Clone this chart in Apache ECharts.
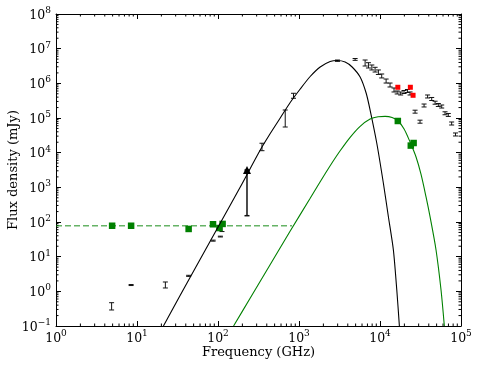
<!DOCTYPE html>
<html>
<head>
<meta charset="utf-8">
<script src="https://cdn.jsdelivr.net/npm/echarts@6.0.0/dist/echarts.min.js"></script>
<style>
  html, body { margin: 0; padding: 0; background: #fff; }
  #chart { width: 480px; height: 369px; }
</style>
</head>
<body>
<div id="chart"></div>
<script>
// axis ranges (GHz, mJy)
const xRange = [1, 1e5]
const yRange = [0.1, 1e8]
const minorMults = [2, 3, 4, 5, 6, 7, 8, 9]

// model curves: [freq, flux]
const coldCurve = [
  [21.2, 0.1], [34.3, 0.785], [60.5, 8.57], [106.8, 93.7], [188.4, 1023], [332.4, 11940],
  [441.6, 35700], [586.6, 100000], [778.9, 280000], [1035, 687000], [1374, 1574000],
  [1826, 2960000], [2425, 4260000], [2958, 4560000], [3713, 4130000], [4529, 2960000],
  [5685, 1520000], [6741, 526000], [7549, 170000], [9130, 18700], [11010, 1309],
  [12695, 142], [14630, 15.6], [16120, 1.09], [17350, 0.1]
]
const warmCurve = [
  [155.7, 0.1], [250.2, 0.644], [441.6, 5.96], [778.9, 55.1], [1374, 483], [1826, 1445],
  [2425, 4188], [3221, 11330], [4279, 27770], [5685, 57680], [7549, 93070], [9476, 109100],
  [11560, 111600], [14100, 103500], [16720, 82000], [19830, 48200], [23500, 20300],
  [27870, 7500], [32120, 2349], [37020, 527], [41480, 142], [49180, 15.6], [56680, 1.09],
  [62260, 0.1]
]
const flatLine = [[1, 78], [820, 78]]

// green squares
const greenPts = [
  [4.93, 78], [8.46, 78], [43.4, 63], [86.8, 86], [104, 67], [114, 88],
  [16600, 82000], [24000, 16000], [26000, 19000]
]
// red squares
const redPts = [[16600, 770000], [23700, 770000], [25600, 452000]]

// error bars: [freq, low, high]
const errBars = [
  [4.86, 0.29, 0.47], [8.46, 1.47, 1.57], [22.4, 1.25, 1.86], [43.4, 2.7, 2.9],
  [87, 28, 30], [107, 37, 39], [112, 53, 82],
  [349, 11400, 18700], [676, 55000, 170000], [855, 371000, 516000],
  [2985, 4300000, 4700000], [4930, 4600000, 5200000],
  [6550, 3160000, 4710000], [7200, 2770000, 3940000], [7930, 2430000, 3380000],
  [8700, 2120000, 2900000], [9550, 1800000, 2430000], [10500, 1430000, 1860000],
  [11900, 1020000, 1330000], [13300, 784000, 1020000], [14900, 563000, 734000],
  [16300, 493000, 601000], [18000, 461000, 563000], [19800, 509000, 621000],
  [21800, 545000, 664000], [23500, 461000, 563000],
  [27100, 138000, 168000], [31200, 70800, 86500], [35000, 208000, 253000],
  [38700, 378000, 461000], [43500, 320000, 391000], [47900, 250000, 305000],
  [52500, 215000, 262000], [57800, 194000, 237000], [63500, 124000, 151000],
  [69700, 111000, 135000], [76700, 62800, 76700], [85500, 30300, 37000]
]
// limit point: triangle at top, bar down
const limitPt = [[228, 152, 3160]]

const serif = 'DejaVu Serif'

function expLabel(v) {
  const e = Math.round(Math.log10(v))
  return '{b|10}{s|' + (e < 0 ? '\u2212' + (-e) : e) + '}'
}
const labelRich = {
  b: { fontSize: 12.5, fontFamily: serif, color: '#000', lineHeight: 16, verticalAlign: 'bottom' },
  s: { fontSize: 9, fontFamily: serif, color: '#000', lineHeight: 16, verticalAlign: 'top' }
}

function minorValues(range) {
  const out = []
  const k0 = Math.round(Math.log10(range[0]))
  const k1 = Math.round(Math.log10(range[1]))
  for (let k = k0; k < k1; k++) {
    minorMults.forEach(m => out.push(m * Math.pow(10, k)))
  }
  return out
}

function errorBarItem(capHalf, width) {
  return (params, api) => {
    const x = api.value(0)
    const lo = api.coord([x, api.value(1)])
    const hi = api.coord([x, api.value(2)])
    const st = { stroke: '#111', lineWidth: width }
    return {
      type: 'group',
      children: [
        { type: 'line', shape: { x1: lo[0], y1: lo[1], x2: hi[0], y2: hi[1] }, style: st },
        { type: 'line', shape: { x1: lo[0] - capHalf, y1: lo[1], x2: lo[0] + capHalf, y2: lo[1] }, style: st },
        { type: 'line', shape: { x1: hi[0] - capHalf, y1: hi[1], x2: hi[0] + capHalf, y2: hi[1] }, style: st }
      ]
    }
  }
}

const chart = echarts.init(document.getElementById('chart'), null, { renderer: 'canvas' })

const axisCommon = {
  type: 'log',
  logBase: 10,
  interval: 1,
  axisLine: { show: true, lineStyle: { color: '#000', width: 1 } },
  axisTick: { show: true, inside: true, length: 5, lineStyle: { color: '#000', width: 1 } },
  splitLine: { show: false },
  minorTick: { show: false }
}

const option = {
  animation: false,
  backgroundColor: '#fff',
  grid: { left: 56, right: 19, top: 14, bottom: 43, containLabel: false, outerBoundsMode: 'none' },
  xAxis: [
    Object.assign({}, axisCommon, {
      min: xRange[0], max: xRange[1], position: 'bottom',
      name: 'Frequency (GHz)', nameLocation: 'middle', nameGap: 20, nameMoveOverlap: false,
      nameTextStyle: { fontFamily: serif, fontSize: 13, color: '#000' },
      axisLabel: { margin: 3, formatter: expLabel, rich: labelRich }
    }),
    Object.assign({}, axisCommon, {
      min: xRange[0], max: xRange[1], position: 'top', axisLabel: { show: false }
    })
  ],
  yAxis: [
    Object.assign({}, axisCommon, {
      min: yRange[0], max: yRange[1], position: 'left',
      name: 'Flux density (mJy)', nameLocation: 'middle', nameGap: 36, nameMoveOverlap: false,
      nameTextStyle: { fontFamily: serif, fontSize: 13, color: '#000' },
      axisLabel: { margin: 5, formatter: expLabel, rich: labelRich }
    }),
    Object.assign({}, axisCommon, {
      min: yRange[0], max: yRange[1], position: 'right', axisLabel: { show: false }
    })
  ],
  series: [
    {
      type: 'custom', silent: true, clip: false,
      data: minorValues(xRange).map(v => [v, 1]),
      renderItem: (params, api) => {
        const px = api.coord([api.value(0), 1])[0]
        const r = params.coordSys
        return {
          type: 'group',
          children: [
            { type: 'line', shape: { x1: px, y1: r.y + r.height, x2: px, y2: r.y + r.height - 2.5 }, style: { stroke: '#000', lineWidth: 1 } },
            { type: 'line', shape: { x1: px, y1: r.y, x2: px, y2: r.y + 2.5 }, style: { stroke: '#000', lineWidth: 1 } }
          ]
        }
      }
    },
    {
      type: 'custom', silent: true, clip: false,
      data: minorValues(yRange).map(v => [1, v]),
      renderItem: (params, api) => {
        const py = api.coord([1, api.value(1)])[1]
        const r = params.coordSys
        return {
          type: 'group',
          children: [
            { type: 'line', shape: { x1: r.x, y1: py, x2: r.x + 2.5, y2: py }, style: { stroke: '#000', lineWidth: 1 } },
            { type: 'line', shape: { x1: r.x + r.width, y1: py, x2: r.x + r.width - 2.5, y2: py }, style: { stroke: '#000', lineWidth: 1 } }
          ]
        }
      }
    },
    {
      type: 'line', data: flatLine, showSymbol: false, silent: true,
      lineStyle: { color: 'rgba(0,128,0,0.6)', width: 1.3, type: [6, 3] }
    },
    {
      type: 'line', data: coldCurve, smooth: 0.25, showSymbol: false, silent: true, clip: true,
      lineStyle: { color: '#000', width: 1.1 }
    },
    {
      type: 'line', data: warmCurve, smooth: 0.3, showSymbol: false, silent: true, clip: true,
      lineStyle: { color: '#008000', width: 1.1 }
    },
    {
      type: 'custom', data: errBars, encode: { x: 0, y: [1, 2] },
      renderItem: errorBarItem(2.5, 1), silent: true
    },
    {
      type: 'custom', data: limitPt, encode: { x: 0, y: [1, 2] },
      renderItem: errorBarItem(2.5, 1.5), silent: true
    },
    {
      type: 'scatter', data: limitPt.map(d => [d[0], d[2]]),
      symbol: 'triangle', symbolSize: 8, itemStyle: { color: '#000', opacity: 1 }, silent: true
    },
    {
      type: 'scatter', data: greenPts, symbol: 'rect', symbolSize: 6.5,
      itemStyle: { color: '#008000', opacity: 1 }, silent: true
    },
    {
      type: 'scatter', data: redPts, symbol: 'rect', symbolSize: 5,
      itemStyle: { color: '#ff0000', opacity: 1 }, silent: true
    }
  ]
}

chart.setOption(option)
</script>
</body>
</html>
